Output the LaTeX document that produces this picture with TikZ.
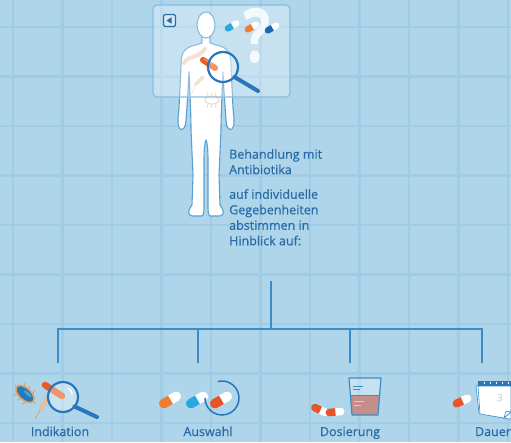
\documentclass[tikz,border=0pt]{standalone}
\usepackage{fontspec}
\setmainfont{Open Sans}
\newfontfamily\labelfont{Open Sans}[FakeBold=0.6]
\definecolor{bgc}{HTML}{AED5EA}
\definecolor{gridc}{HTML}{A0CCE5}
\definecolor{txtc}{HTML}{2A6BA7}
\definecolor{linec}{HTML}{3C8CC6}
\definecolor{bodyline}{HTML}{5A9FD0}
\definecolor{magc}{HTML}{2877BD}
\definecolor{pillorange}{HTML}{F07C2E}
\definecolor{pillred}{HTML}{E9532B}
\definecolor{pilllight}{HTML}{29A8DF}
\definecolor{pilldark}{HTML}{1E68AE}
\definecolor{tanc}{HTML}{DDA56A}
\definecolor{liquidc}{HTML}{C4867F}
\definecolor{panelc}{HTML}{86BFE2}
\tikzset{
  capsule/.pic={
    \fill[white] (0,-4) -- (6,-4) arc[start angle=-90,end angle=90,radius=4] -- (0,4) -- cycle;
    \fill[#1] (0.4,4) -- (-6,4) arc[start angle=90,end angle=270,radius=4] -- (0.4,-4) -- cycle;
  },
  gridline/.style={gridc, line width=2.6pt},
  tree/.style={linec, line width=1.8pt},
  maintext/.style={txtc, font=\labelfont\fontsize{12.5}{15.5}\selectfont, align=left, inner sep=0pt},
  lbl/.style={txtc, font=\labelfont\fontsize{12.5}{15}\selectfont, inner sep=0pt, anchor=base},
  lens/.style={magc, line width=2.2pt, fill=white, fill opacity=0.35},
  handle/.style={magc, line width=4pt, line cap=round},
  figure/.style={draw=bodyline, line width=1.1pt, fill=white, line join=round},
  faint/.style={tanc, opacity=0.45},
}
\begin{document}
\begin{tikzpicture}[x=1pt,y=-1pt]
\useasboundingbox (0,0) rectangle (511,442);
\fill[bgc] (0,0) rectangle (511,442);
% background grid
\foreach \i in {0,...,10} \draw[gridline] (13+49.5*\i,0) -- (13+49.5*\i,442);
\foreach \j in {0,...,8} \draw[gridline] (0,27+49.5*\j) -- (511,27+49.5*\j);

% human figure
\path[figure] (202,36) -- (202,43)
  .. controls (197,45) and (188,46) .. (185,50)
  .. controls (182,53) and (181,58) .. (181,66)
  -- (179,108)
  .. controls (178,118) and (177,126) .. (180,129)
  .. controls (183,131) and (186,127) .. (186,120)
  -- (188,92) -- (189,72)
  .. controls (190,95) and (191,115) .. (191,130)
  -- (193,175) -- (192,205)
  .. controls (188,210) and (187,215) .. (192,216) -- (202,216)
  .. controls (204,215) and (204,210) .. (204,205)
  -- (204,160) .. controls (204,148) and (205,142) .. (206,140)
  .. controls (207,142) and (208,148) .. (208,160)
  -- (208,205) .. controls (208,210) and (208,215) .. (210,216)
  -- (220,216) .. controls (225,215) and (224,210) .. (220,205)
  -- (219,175) -- (221,130)
  .. controls (221,115) and (222,95) .. (223,72)
  -- (224,92) -- (226,120)
  .. controls (226,127) and (229,131) .. (232,129)
  .. controls (235,126) and (234,118) .. (233,108)
  -- (231,66) .. controls (231,58) and (230,53) .. (227,50)
  .. controls (224,46) and (215,45) .. (210,43) -- (210,36);
\path[figure] (206,25) ellipse[x radius=9, y radius=13];

% faint bacteria on the chest
\draw[faint, line width=4pt, line cap=round] (184,63) .. controls (190,54) and (196,60) .. (205,49);
\draw[faint, line width=3.5pt, line cap=round] (196,84) -- (203,77);
\draw[faint, line width=0.8pt] (196,84) .. controls (193,88) and (194,91) .. (191,94);
\draw[faint, line width=1pt] (212,100) ellipse[x radius=7, y radius=4];
\foreach \dx in {-4,0,4} {
  \draw[faint, line width=0.8pt] (212+\dx,96) -- (211+\dx,92);
  \draw[faint, line width=0.8pt] (212+\dx,104) -- (211+\dx,108);
}

% overlay panel
\draw[panelc, line width=1.3pt, fill=white, fill opacity=0.3, rounded corners=4pt] (153,5) rectangle (290,97);
\node[draw=txtc, line width=1.2pt, fill=white, fill opacity=0.25, text opacity=1, rounded corners=1.5pt, minimum size=12pt, inner sep=0pt] (back) at (169.5,20.5) {};
\fill[txtc] (166.5,20.5) -- (171.5,17.3) -- (171.5,23.7) -- cycle;
\node[white, opacity=0.8, font=\fontsize{60}{60}\bfseries\selectfont, inner sep=0pt, anchor=base] (qmark) at (257,62) {\scalebox{0.95}[1.25]{?}};
\pic[rotate=30, scale=0.8] at (232,26) {capsule=pilllight};
\pic[rotate=30, scale=0.8] at (252,27) {capsule=pillorange};
\pic[rotate=30, scale=0.8] at (272,28) {capsule=pilldark};
\draw[pillred!85!orange, line width=6pt, line cap=round] (203,60) -- (215,68);
\draw[white, opacity=0.35, line width=1.2pt, line cap=round] (204,59) -- (212,64);
\draw[lens] (223,67) circle[radius=15];
\draw[handle] (234.5,77) -- (258,91);

% tree of connectors
\node[maintext, anchor=north west] (t1) at (229,149) {Behandlung mit\\Antibiotika};
\node[maintext, anchor=north west] (t2) at (229,189) {auf individuelle\\Gegebenheiten\\abstimmen in\\Hinblick auf:};
\coordinate (trunk) at (271,281);
\coordinate (bar) at (271,329);
\coordinate (d1) at (58,363);
\coordinate (d2) at (198,363);
\coordinate (d3) at (350,363);
\coordinate (d4) at (482,363);
\draw[tree] (trunk) -- (bar);
\draw[tree] (d1) -- (d1|-bar) -- (d4|-bar) -- (d4);
\draw[tree] (d2) -- (d2|-bar);
\draw[tree] (d3) -- (d3|-bar);

% labels
\node[lbl] (l1) at (60,436) {Indikation};
\node[lbl] (l2) at (208,436) {Auswahl};
\node[lbl] (l3) at (350,436) {Dosierung};
\node[lbl] (l4) at (493,436) {Dauer};

% Indikation icon
\begin{scope}[shift={(25,394)}, rotate=-42]
  \foreach \dx in {-6,0,6} {
    \draw[tanc, line width=1pt] (\dx,5) -- (\dx-1.5,9.5);
    \draw[tanc, line width=1pt] (\dx,-5) -- (\dx-1.5,-9.5);
  }
  \draw[tanc, line width=1pt] (11,0) -- (14,0);
  \draw[tanc, line width=1pt] (-11,0) -- (-14,0);
  \draw[tanc, line width=1.6pt, fill=pilldark!70!pilllight] (0,0) ellipse[x radius=11, y radius=6];
  \fill[pilllight!60!white, opacity=0.5] (2,-2) ellipse[x radius=5, y radius=1.5];
\end{scope}
\draw[tanc!70!white, line width=4.5pt, line cap=round] (41,408) -- (47,399);
\draw[tanc, line width=0.9pt] (40,410) .. controls (38,414) and (37,415) .. (35,419);
\draw[pillred!85!orange, line width=6.5pt, line cap=round] (45,385) -- (62,396);
\draw[lens] (63,397) circle[radius=15];
\draw[white, line width=1.5pt, opacity=0.8] (68,388) arc[start angle=-60, end angle=-10, radius=9];
\draw[handle] (74.5,406.5) -- (97,417);

% Auswahl icon
\pic[rotate=30, scale=1.2] at (170,400) {capsule=pillorange};
\pic[rotate=30, scale=1.2] at (197,400) {capsule=pilllight};
\pic[rotate=30, scale=1.2] at (221,400) {capsule=pillred};
\draw[magc, line width=1.5pt] (222,398) ++(-105:17) arc[start angle=-105, end angle=180, radius=17];

% Dosierung icon
\pic[rotate=-25, scale=0.95] at (320,410) {capsule=pillred};
\pic[rotate=5, scale=0.95] at (335,412) {capsule=pillred};
\fill[white, opacity=0.3] (349,378) -- (352,415) -- (378,415) -- (381,378) -- cycle;
\fill[liquidc, opacity=0.9] (350.4,395) -- (352,415) -- (378,415) -- (379.6,395) -- cycle;
\draw[linec, line width=1.2pt, line join=round] (349,378) -- (352,415) -- (378,415) -- (381,378) -- cycle;
\draw[linec, line width=0.7pt] (350.4,395) -- (379.6,395);
\draw[linec, line width=0.6pt] (353,386) -- (363,386);
\draw[linec, line width=0.6pt] (353,389.5) -- (360,389.5);
\draw[white, opacity=0.5, line width=0.6pt] (354,401) -- (364,401);
\draw[white, opacity=0.5, line width=0.6pt] (354,405) -- (361,405);

% Dauer icon
\pic[rotate=25, scale=1] at (462,401) {capsule=pillred};
\draw[linec, line width=0.6pt, fill=white] (476,386) -- (479,413) -- (509,419) -- (511,419) -- (511,386) -- cycle;
\draw[linec, line width=0.6pt, fill=white] (478,386) -- (480,414) -- (504,418) -- (511,412) -- (511,386) -- cycle;
\draw[linec, line width=0.6pt, fill=white!85!bgc] (504,418) -- (511,412) -- (506,411) -- cycle;
\fill[magc] (478,381) rectangle (511,386);
\foreach \x in {484,490,496,502,508} \draw[white, line width=0.8pt] (\x,381.5) -- (\x,384);
\node[text=linec!45!white, font=\fontsize{10}{10}\selectfont, rotate=-8, inner sep=0pt] (day) at (500,398) {3};
\end{tikzpicture}
\end{document}
